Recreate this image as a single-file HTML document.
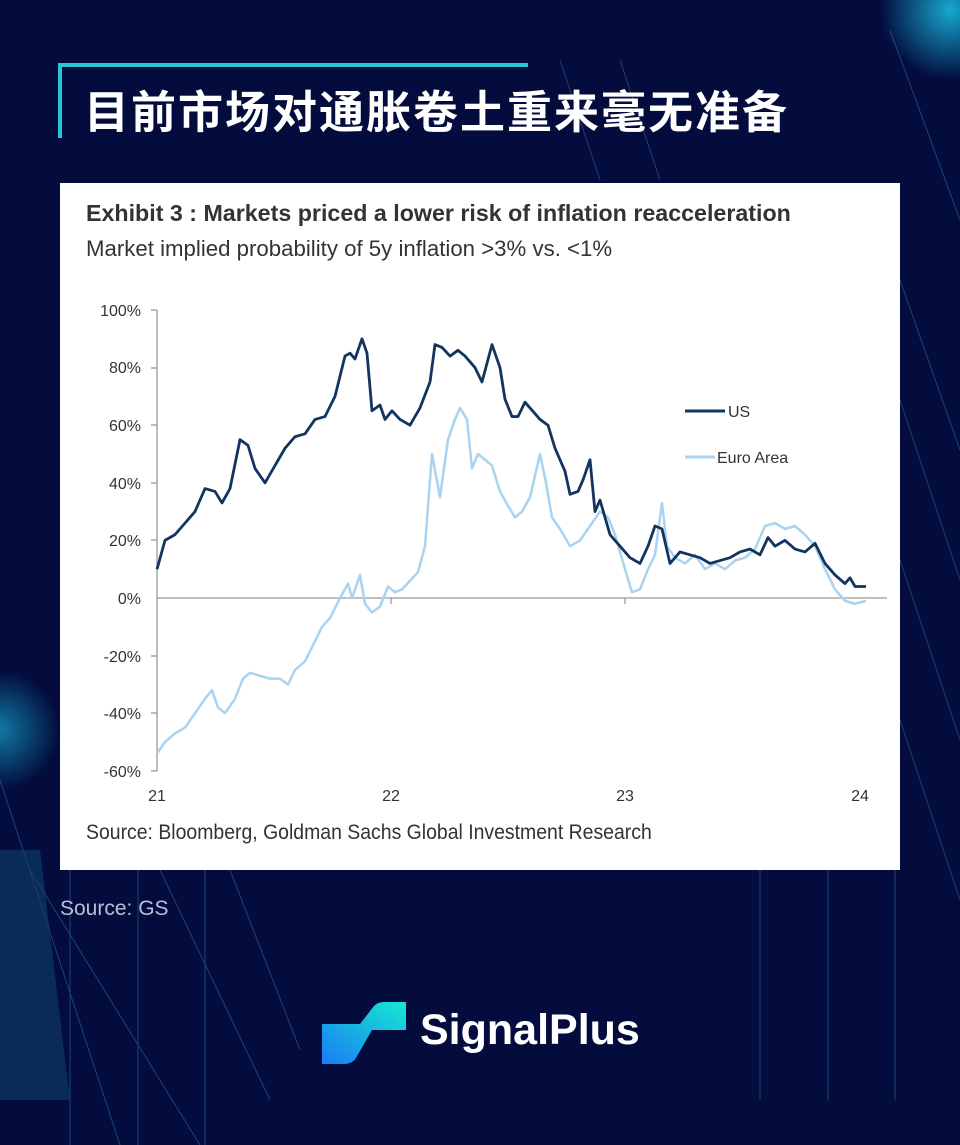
<!DOCTYPE html><html><head><meta charset="utf-8"><style>
body{margin:0;width:960px;height:1145px;background:#030c3c;position:relative;overflow:hidden;font-family:"Liberation Sans","Noto Sans CJK SC",sans-serif}
.abs{position:absolute;white-space:nowrap}
</style></head><body>
<svg class="abs" style="left:0;top:0" width="960" height="1145">
<defs><radialGradient id="g1"><stop offset="0" stop-color="#19b8e0" stop-opacity=".9"/><stop offset="1" stop-color="#19b8e0" stop-opacity="0"/></radialGradient></defs>
<circle cx="950" cy="10" r="70" fill="url(#g1)"/>
<circle cx="0" cy="730" r="60" fill="url(#g1)" opacity=".7"/>
<g stroke="#2a6a9a" stroke-width="1" opacity=".6" fill="none">
<line x1="0" y1="780" x2="120" y2="1145"/><line x1="30" y1="870" x2="200" y2="1145"/><line x1="160" y1="870" x2="270" y2="1100"/><line x1="230" y1="870" x2="300" y2="1050"/>
<line x1="70" y1="870" x2="70" y2="1145"/><line x1="138" y1="870" x2="138" y2="1145"/><line x1="205" y1="870" x2="205" y2="1145"/>
<line x1="760" y1="870" x2="760" y2="1100"/><line x1="828" y1="870" x2="828" y2="1100"/><line x1="895" y1="870" x2="895" y2="1100"/>
<line x1="900" y1="280" x2="960" y2="450"/><line x1="900" y1="400" x2="960" y2="580"/><line x1="900" y1="560" x2="960" y2="740"/><line x1="900" y1="720" x2="960" y2="900"/>
<line x1="890" y1="30" x2="960" y2="220"/><line x1="560" y1="60" x2="600" y2="180"/><line x1="620" y1="60" x2="660" y2="180"/>
</g>
<polygon points="0,850 40,850 70,1100 0,1100" fill="#0f3f6a" opacity=".6"/>
<polyline points="528,65 60,65 60,138" fill="none" stroke="#27c6d6" stroke-width="4"/>
</svg>
<div class="abs" style="left:84px;top:76px;color:#fff;font-size:45px;font-weight:bold;font-family:'Noto Sans CJK SC',sans-serif;letter-spacing:2px">目前市场对通胀卷土重来毫无准备</div>
<div class="abs" style="left:60px;top:183px;width:840px;height:687px;background:#fff"></div>
<div class="abs" style="left:86px;top:200px;font-size:23px;font-weight:bold;color:#333;transform:scaleX(1.01);transform-origin:left">Exhibit 3 : Markets priced a lower risk of inflation reacceleration</div>
<div class="abs" style="left:86px;top:236px;font-size:22px;color:#333;transform:scaleX(1.01);transform-origin:left">Market implied probability of 5y inflation &gt;3% vs. &lt;1%</div>
<div class="abs" style="left:86px;top:821px;font-size:21px;color:#333;transform:scaleX(.925);transform-origin:left">Source: Bloomberg, Goldman Sachs Global Investment Research</div>
<svg class="abs" style="left:0;top:0" width="960" height="1145" font-family="Liberation Sans" font-size="16" fill="#333">
<g text-anchor="end"><text x="141" y="316">100%</text><text x="141" y="373">80%</text><text x="141" y="431">60%</text><text x="141" y="489">40%</text><text x="141" y="546">20%</text><text x="141" y="604">0%</text><text x="141" y="662">-20%</text><text x="141" y="719">-40%</text><text x="141" y="777">-60%</text></g>
<g text-anchor="middle"><text x="157" y="801">21</text><text x="391" y="801">22</text><text x="625" y="801">23</text><text x="860" y="801">24</text></g>
<g stroke="#999" stroke-width="1.3"><line x1="157" y1="310" x2="157" y2="771"/><line x1="157" y1="598" x2="887" y2="598"/>
<line x1="151" y1="310" x2="157" y2="310"/><line x1="151" y1="368" x2="157" y2="368"/><line x1="151" y1="425" x2="157" y2="425"/><line x1="151" y1="483" x2="157" y2="483"/><line x1="151" y1="540" x2="157" y2="540"/><line x1="151" y1="656" x2="157" y2="656"/><line x1="151" y1="713" x2="157" y2="713"/><line x1="151" y1="771" x2="157" y2="771"/>
<line x1="391" y1="598" x2="391" y2="604"/><line x1="625" y1="598" x2="625" y2="604"/></g>
<g fill="none" stroke="#a9d3f0" stroke-width="2.5" stroke-linejoin="round" transform="translate(0,598) scale(1,-2.88)">
<polyline points="157,-54 165,-50 175,-47 185,-45 195,-40 205,-35 212,-32 218,-38 225,-40 235,-35 243,-28 250,-26 260,-27 270,-28 280,-28 288,-30 295,-25 305,-22 315,-15 322,-10 330,-7 340,0 348,5 352,0 360,8 365,-2 372,-5 380,-3 388,4 395,2 402,3 410,6 418,9 425,18 432,50 440,35 448,55 455,62 460,66 467,62 472,45 478,50 485,48 492,46 500,37 508,32 515,28 522,30 530,35 540,50 546,40 552,28 560,24 570,18 580,20 590,25 600,30 608,28 615,22 625,10 632,2 640,3 648,10 655,15 662,33 667,18 675,14 685,12 695,15 705,10 715,12 725,10 735,13 745,14 755,17 765,25 775,26 785,24 795,25 805,22 815,18 825,10 835,3 845,-1 855,-2 866,-1" vector-effect="non-scaling-stroke"/></g>
<g fill="none" stroke="#12345e" stroke-width="2.8" stroke-linejoin="round" transform="translate(0,598) scale(1,-2.88)">
<polyline vector-effect="non-scaling-stroke" points="157,10 165,20 175,22 185,26 195,30 205,38 215,37 222,33 230,38 240,55 248,53 255,45 265,40 275,46 285,52 295,56 305,57 315,62 325,63 335,70 345,84 350,85 355,83 362,90 367,85 372,65 380,67 385,62 392,65 400,62 410,60 420,66 430,75 435,88 442,87 450,84 458,86 465,84 475,80 482,75 492,88 500,80 505,69 512,63 518,63 525,68 530,66 540,62 548,60 555,52 565,44 570,36 578,37 583,41 590,48 595,30 600,34 610,22 620,18 630,14 640,12 648,18 655,25 662,24 670,12 680,16 690,15 700,14 710,12 720,13 730,14 740,16 750,17 760,15 768,21 775,18 785,20 795,17 805,16 815,19 825,12 835,8 845,5 850,7 855,4 866,4"/></g>
<line x1="685" y1="411" x2="725" y2="411" stroke="#12345e" stroke-width="3"/><text x="728" y="417" fill="#333">US</text>
<line x1="685" y1="457" x2="715" y2="457" stroke="#a9d3f0" stroke-width="3"/><text x="717" y="463" fill="#333">Euro Area</text>
</svg>
<div class="abs" style="left:60px;top:897px;color:#b8bfd8;font-size:21px">Source: GS</div>
<svg class="abs" style="left:322px;top:1002px" width="86" height="64"><defs><linearGradient id="lg" x1="0" y1="1" x2="1" y2="0"><stop offset="0" stop-color="#1a7cf5"/><stop offset="1" stop-color="#17e8d0"/></linearGradient></defs><path d="M0,22 H38 L52,4 Q56,0 62,0 H84 V28 H50 L34,56 Q30,62 22,62 H0 Z" fill="url(#lg)"/></svg>
<div class="abs" style="left:420px;top:1006px;color:#fff;font-size:43px;font-weight:bold">SignalPlus</div>
</body></html>
